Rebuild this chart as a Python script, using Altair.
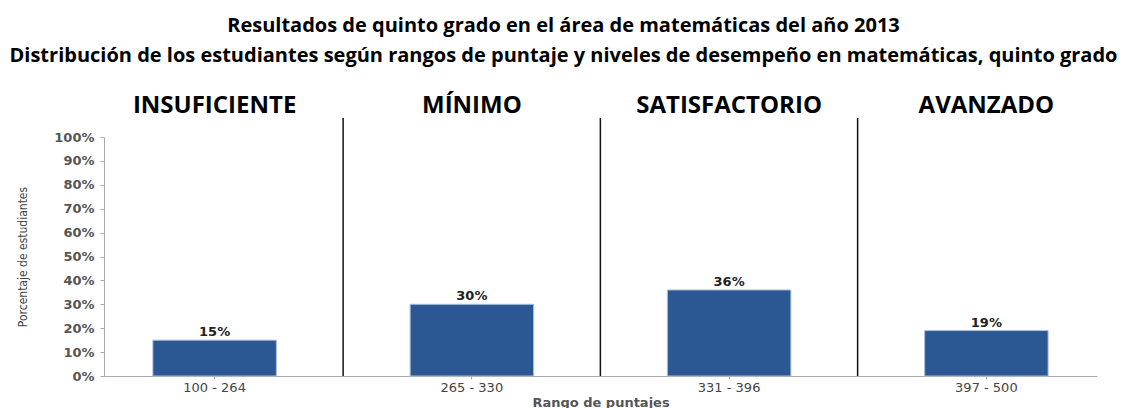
import altair as alt
import pandas as pd

# Score ranges, performance levels and share of students in each range
rangos = ["100 - 264", "265 - 330", "331 - 396", "397 - 500"]
niveles = ["INSUFICIENTE", "MÍNIMO", "SATISFACTORIO", "AVANZADO"]
porcentajes = [15, 30, 36, 19]

df = pd.DataFrame({
    "rango": rangos,
    "nivel": niveles,
    "pct": [p / 100 for p in porcentajes],
    "etiqueta": [f"{p}%" for p in porcentajes],
})

x_enc = alt.X(
    "rango:N",
    sort=rangos,
    scale=alt.Scale(paddingInner=0.52, paddingOuter=0.19),
    axis=alt.Axis(
        title="Rango de puntajes",
        labelAngle=0,
        labelFont="DejaVu Sans",
        labelFontSize=13,
        labelColor="#444444",
        labelPadding=2,
        tickSize=3,
        tickColor="#aaaaaa",
        domainColor="#aaaaaa",
        titleFont="DejaVu Sans",
        titleFontSize=13,
        titleFontWeight="bold",
        titleColor="#555555",
        titlePadding=2,
    ),
)

y_enc = alt.Y(
    "pct:Q",
    scale=alt.Scale(domain=[0, 1]),
    axis=alt.Axis(
        title="Porcentaje de estudiantes",
        format=".0%",
        values=[i / 10 for i in range(11)],
        labelOverlap=False,
        grid=False,
        labelFont="DejaVu Sans",
        labelFontSize=13,
        labelFontWeight="bold",
        labelColor="#555555",
        labelPadding=6,
        tickSize=4,
        tickColor="#aaaaaa",
        domainColor="#aaaaaa",
        titleFont="Liberation Sans Narrow, DejaVu Sans Condensed, Roboto",
        titleFontSize=12,
        titleFontWeight="normal",
        titleColor="#444444",
        titlePadding=24,
    ),
)

base = alt.Chart(df).encode(x=x_enc)

bars = base.mark_bar(color="#2B5893", stroke="#A9BEDD", strokeWidth=1).encode(y=y_enc)

valores = base.mark_text(
    baseline="bottom", dy=-1, font="DejaVu Sans", fontSize=13, fontWeight="bold", color="#222222"
).encode(y=y_enc, text="etiqueta:N")

# Dividers between the performance levels
divisores = alt.Chart(df.iloc[:3]).mark_rule(color="#111111", strokeWidth=1.5, xOffset=128.5).encode(
    x=alt.X("rango:N", sort=rangos),
    y=alt.value(-19),
    y2=alt.value(239),
)

# Performance level names above each range
encabezados = base.mark_text(
    baseline="middle", font="Open Sans", fontSize=24, fontWeight="bold", color="#000000"
).encode(text="nivel:N", y=alt.value(-31))

chart = (
    alt.layer(bars, valores, divisores, encabezados)
    .properties(
        width=993,
        height=239,
        autosize=alt.AutoSizeParams(type="none"),
        padding={"left": 104, "top": 137, "right": 30, "bottom": 32},
        title=alt.TitleParams(
            text="Resultados de quinto grado en el área de matemáticas del año 2013",
            subtitle="Distribución de los estudiantes según rangos de puntaje y niveles de desempeño en matemáticas, quinto grado",
            anchor="middle",
            frame="group",
            dx=-37,
            offset=28,
            font="Open Sans",
            fontSize=20,
            fontWeight="bold",
            color="#000000",
            subtitleFont="Open Sans",
            subtitleFontSize=20,
            subtitleFontWeight="bold",
            subtitleColor="#000000",
            subtitlePadding=10,
        ),
    )
    .configure_view(stroke=None)
)

chart.save("out.html", embed_options={"renderer": "svg", "actions": False})
